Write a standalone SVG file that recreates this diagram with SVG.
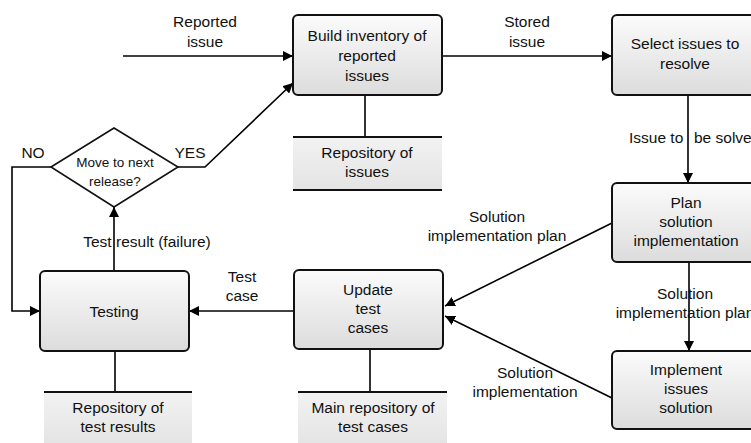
<svg xmlns="http://www.w3.org/2000/svg" width="751" height="443" viewBox="0 0 751 443">
<defs>
<linearGradient id="boxg" x1="0" y1="0" x2="0" y2="1">
<stop offset="0" stop-color="#fbfbfb"/>
<stop offset="1" stop-color="#dcdcdc"/>
</linearGradient>
<linearGradient id="repg" x1="0" y1="0" x2="0" y2="1">
<stop offset="0" stop-color="#f2f2f2"/>
<stop offset="1" stop-color="#e4e4e4"/>
</linearGradient>
<marker id="arr" viewBox="0 0 10 10" refX="10" refY="5" markerWidth="10" markerHeight="10" markerUnits="userSpaceOnUse" orient="auto">
<path d="M0,0 L10,5 L0,10 z" fill="#000"/>
</marker>
</defs>
<style>
text{font-family:"Liberation Sans",Arial,sans-serif;font-size:15.5px;fill:#111;text-anchor:middle}
.box{fill:url(#boxg);stroke:#111;stroke-width:2}
.rep{fill:url(#repg);stroke:none}
.rl{stroke:#111;stroke-width:2;fill:none}
.c{stroke:#000;stroke-width:1.6;fill:none}
.ca{stroke:#000;stroke-width:1.6;fill:none;marker-end:url(#arr)}
.sm{font-size:13.5px}
</style>
<g id="connectors">
<path class="ca" d="M123,56 L293,56"/>
<path class="ca" d="M442,56 L612,56"/>
<path class="ca" d="M178,167 L205,167 L293,83"/>
<path class="ca" d="M51,167 L12,167 L12,311 L40,311"/>
<path class="ca" d="M114,271 L114,207"/>
<path class="ca" d="M294,311 L189,311"/>
<path class="ca" d="M688,95 L688,183"/>
<path class="ca" d="M689,262 L689,351"/>
<path class="ca" d="M612,223 L445,306"/>
<path class="ca" d="M612,398 L445,316"/>
<path class="c" d="M365,95 L365,137"/>
<path class="c" d="M115,351 L115,392"/>
<path class="c" d="M370,349 L370,392"/>
<text x="205" y="27">Reported</text>
<text x="205" y="47">issue</text>
<text x="527" y="27">Stored</text>
<text x="527" y="47">issue</text>
<text x="190" y="158">YES</text>
<text x="33" y="158">NO</text>
<text x="147" y="247">Test result (failure)</text>
<text x="242" y="282">Test</text>
<text x="242" y="301">case</text>
<text x="629" y="143" style="text-anchor:start">Issue to <tspan x="694">be solved</tspan></text>
<text x="497" y="222">Solution</text>
<text x="497" y="241">implementation plan</text>
<text x="685" y="299">Solution</text>
<text x="685" y="318">implementation plan</text>
<text x="525" y="378">Solution</text>
<text x="525" y="397">implementation</text>
</g>
<g id="build">
<rect class="box" x="293" y="15" width="149" height="80" rx="5"/>
<text x="367" y="41">Build inventory of</text>
<text x="367" y="61">reported</text>
<text x="367" y="81">issues</text>
</g>
<g id="select">
<rect class="box" x="612" y="15" width="149" height="80" rx="5"/>
<text x="685" y="49">Select issues to</text>
<text x="685" y="69">resolve</text>
</g>
<g id="plan">
<rect class="box" x="612" y="183" width="149" height="79" rx="5"/>
<text x="686" y="208">Plan</text>
<text x="686" y="227">solution</text>
<text x="686" y="246">implementation</text>
</g>
<g id="implement">
<rect class="box" x="612" y="351" width="149" height="78" rx="5"/>
<text x="686" y="375">Implement</text>
<text x="686" y="394">issues</text>
<text x="686" y="413">solution</text>
</g>
<g id="update">
<rect class="box" x="294" y="270" width="149" height="79" rx="5"/>
<text x="368" y="295">Update</text>
<text x="368" y="314">test</text>
<text x="368" y="333">cases</text>
</g>
<g id="testing">
<rect class="box" x="40" y="271" width="149" height="80" rx="5"/>
<text x="114" y="317">Testing</text>
</g>
<g id="decision">
<path d="M51,167 L114,128 L178,167 L114,207 z" fill="#fff" stroke="#111" stroke-width="1.6"/>
<text class="sm" x="115" y="167">Move to next</text>
<text class="sm" x="115" y="186">release?</text>
</g>
<g id="repo-issues">
<rect class="rep" x="293" y="137" width="149" height="53"/>
<path class="rl" d="M293,137 L442,137 M293,190 L442,190"/>
<text x="367" y="158">Repository of</text>
<text x="367" y="177">issues</text>
</g>
<g id="repo-results">
<rect class="rep" x="44" y="392" width="148" height="53"/>
<path class="rl" d="M44,392 L192,392"/>
<text x="118" y="413">Repository of</text>
<text x="118" y="432">test results</text>
</g>
<g id="repo-cases">
<rect class="rep" x="298" y="392" width="149" height="53"/>
<path class="rl" d="M298,392 L447,392"/>
<text x="373" y="413">Main repository of</text>
<text x="373" y="432">test cases</text>
</g>
</svg>
